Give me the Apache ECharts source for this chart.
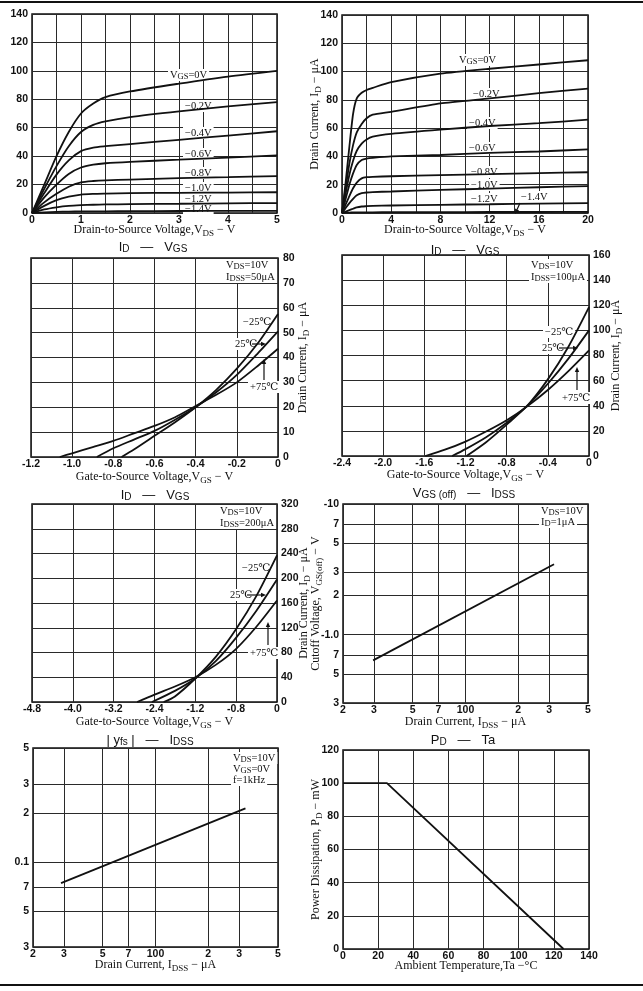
<!DOCTYPE html>
<html>
<head>
<meta charset="utf-8">
<script src="https://cdn.jsdelivr.net/npm/echarts@6/dist/echarts.min.js"></script>
<style>
html, body { margin: 0; padding: 0; background: #fff; }
#chart { width: 643px; height: 991px; }
</style>
</head>
<body>
<div id="chart"></div>
<script>
// ---- values ----

// I_D - V_DS, 0..5 V (uA)
const vds5 = [0, 0.25, 0.5, 0.75, 1, 1.25, 1.5, 2, 3, 4, 5];
const low0 = [0, 20, 40, 57, 70, 77, 81.5, 85.5, 91, 96, 100];
const low02 = [0, 17, 33, 47, 57, 62, 64.5, 67.5, 71.5, 75, 78];
const low04 = [0, 14, 27, 37, 43.5, 46, 47, 48.5, 51.5, 54.5, 57.5];
const low06 = [0, 11, 20, 27.5, 32, 34, 35, 36, 37.5, 39, 40.5];
const low08 = [0, 7.5, 13.5, 18.5, 21.5, 22.5, 23, 23.5, 24.5, 25.2, 26];
const low10 = [0, 5, 9, 11.5, 13, 13.5, 13.7, 14, 14.2, 14.4, 14.6];
const low12 = [0, 2.5, 4, 5, 5.5, 5.8, 6, 6.2, 6.5, 6.8, 7];
const low14 = [0, 0.5, 0.8, 1, 1.1, 1.2, 1.2, 1.3, 1.4, 1.5, 1.5];

// I_D - V_DS, 0..20 V (uA)
const vds20 = [0, 0.3, 0.6, 0.9, 1.2, 1.6, 2, 2.5, 4, 8, 12, 16, 20];
const hi0 = [0, 22, 47, 70, 81, 85, 87, 88.5, 92.5, 98.5, 102, 105, 108];
const hi02 = [0, 18, 35, 48, 57, 63, 67, 69.5, 71.5, 77.5, 81, 84.7, 88];
const hi04 = [0, 14, 27, 37, 44, 49, 52, 54, 56, 59, 61.5, 63.5, 66];
const hi06 = [0, 10, 20, 28, 34, 37.5, 38.5, 39, 40, 41, 42.5, 43.5, 45];
const hi08 = [0, 6, 12, 17.5, 21.5, 24.5, 25.3, 25.6, 26, 26.8, 27.5, 28.2, 28.8];
const hi10 = [0, 3.5, 7, 10, 12.5, 14, 14.5, 14.8, 15.2, 16.3, 17.3, 18.2, 19];
const hi12 = [0, 1, 2, 3, 4, 4.6, 4.8, 5, 5.3, 5.8, 6.2, 6.6, 7];
const hi14 = [0, 0.2, 0.3, 0.4, 0.5, 0.5, 0.5, 0.5, 0.6, 0.6, 0.7, 0.7, 0.8];

// I_D - V_GS, I_DSS = 50 uA
const a50VgsM25 = [-0.76, -0.7, -0.6, -0.5, -0.4, -0.3, -0.2, -0.1, 0];
const a50IdM25 = [0, 3, 8.5, 14, 20, 27, 35.5, 45.5, 57.5];
const a50Vgs25 = [-0.88, -0.8, -0.7, -0.6, -0.5, -0.4, -0.3, -0.2, -0.1, 0];
const a50Id25 = [0, 3.5, 7, 10.5, 15, 20, 26, 33, 41.5, 50.5];
const a50Vgs75 = [-1.06, -1.0, -0.9, -0.8, -0.7, -0.6, -0.5, -0.4, -0.3, -0.2, -0.1, 0];
const a50Id75 = [0, 1.5, 4, 6.5, 9.5, 12.5, 16, 20.5, 25, 30, 36.5, 43.5];

// I_D - V_GS, I_DSS = 100 uA
const a100VgsM25 = [-1.19, -1.0, -0.8, -0.6, -0.4, -0.2, 0];
const a100IdM25 = [0, 11, 25, 40, 61, 87, 118.5];
const a100Vgs25 = [-1.33, -1.2, -1.0, -0.8, -0.6, -0.4, -0.2, 0];
const a100Id25 = [0, 5.5, 15, 26.5, 40, 57.5, 77.5, 100];
const a100Vgs75 = [-1.59, -1.4, -1.2, -1.0, -0.8, -0.6, -0.4, -0.2, 0];
const a100Id75 = [0, 5, 11.5, 19.5, 28.5, 39.5, 52.5, 67.5, 84];

// I_D - V_GS, I_DSS = 200 uA
const a200VgsM25 = [-2.22, -2.0, -1.6, -1.2, -0.8, -0.4, 0];
const a200IdM25 = [0, 9, 38, 73, 118, 172, 237];
const a200Vgs25 = [-2.45, -2.0, -1.6, -1.2, -0.8, -0.4, 0];
const a200Id25 = [0, 18, 38, 66, 104, 148, 198];
const a200Vgs75 = [-2.74, -2.4, -2.0, -1.6, -1.2, -0.8, -0.4, 0];
const a200Id75 = [0, 12, 25, 40, 60, 86, 122, 164];

// V_GS(off) - I_DSS (log-log)
const offIdss = [29.7, 320];
const offVgs = [0.636, 3.46];

// |y_fs| - I_DSS (log-log)
const yfsIdss = [28.9, 326];
const yfsVal = [0.074, 0.213];

// P_D - Ta
const pdTa = [0, 25, 125.5];
const pdVal = [100, 100, 0];

// tick labels
const p1XTicks = [0, 1, 2, 3, 4, 5];
const p1XLabels = ['0', '1', '2', '3', '4', '5'];
const p1YTicks = [0, 20, 40, 60, 80, 100, 120, 140];
const p1YLabels = ['0', '20', '40', '60', '80', '100', '120', '140'];
const p2XTicks = [0, 4, 8, 12, 16, 20];
const p2XLabels = ['0', '4', '8', '12', '16', '20'];
const p3XTicks = [-1.2, -1.0, -0.8, -0.6, -0.4, -0.2, 0];
const p3XLabels = ['-1.2', '-1.0', '-0.8', '-0.6', '-0.4', '-0.2', '0'];
const p3YTicks = [0, 10, 20, 30, 40, 50, 60, 70, 80];
const p3YLabels = ['0', '10', '20', '30', '40', '50', '60', '70', '80'];
const p4XTicks = [-2.4, -2.0, -1.6, -1.2, -0.8, -0.4, 0];
const p4XLabels = ['-2.4', '-2.0', '-1.6', '-1.2', '-0.8', '-0.4', '0'];
const p4YTicks = [0, 20, 40, 60, 80, 100, 120, 140, 160];
const p4YLabels = ['0', '20', '40', '60', '80', '100', '120', '140', '160'];
const p5XTicks = [-4.8, -4.0, -3.2, -2.4, -1.6, -0.8, 0];
const p5XLabels = ['-4.8', '-4.0', '-3.2', '-2.4', '-1.2', '-0.8', '0'];
const p5YTicks = [0, 40, 80, 120, 160, 200, 240, 280, 320];
const p5YLabels = ['0', '40', '80', '120', '160', '200', '240', '280', '320'];
const logXTicks = [20, 30, 50, 70, 100, 200, 300, 500];
const logXLabels = ['2', '3', '5', '7', '100', '2', '3', '5'];
const p6YTicks = [0.3, 0.5, 0.7, 1, 2, 3, 5, 7, 10];
const p6YLabels = ['3', '5', '7', '-1.0', '2', '3', '5', '7', '-10'];
const p7YTicks = [0.03, 0.05, 0.07, 0.1, 0.2, 0.3, 0.5];
const p7YLabels = ['3', '5', '7', '0.1', '2', '3', '5'];
const p8XTicks = [0, 20, 40, 60, 80, 100, 120, 140];
const p8XLabels = ['0', '20', '40', '60', '80', '100', '120', '140'];
const p8YTicks = [0, 20, 40, 60, 80, 100, 120];
const p8YLabels = ['0', '20', '40', '60', '80', '100', '120'];

// ---- styling ----
const INK = '#111';
const SERIF = '"Liberation Serif","DejaVu Serif",serif';
const SANS = '"Liberation Sans","DejaVu Sans",sans-serif';
const NARROW = '"Liberation Sans Narrow","Liberation Sans",sans-serif';

const nameRich = {
  n: { fontFamily: SERIF, fontSize: 12, lineHeight: 16, color: INK, verticalAlign: 'middle' },
  s: { fontFamily: SERIF, fontSize: 9, lineHeight: 8, color: INK, verticalAlign: 'bottom' }
};

function pick(ticks, labels, tf) {
  return (v) => {
    const i = ticks.findIndex((t) => Math.abs((tf ? tf(t) : t) - v) < 1e-6);
    return i < 0 ? '' : labels[i];
  };
}

function labelStyle(ticks, labels, tf, margin) {
  return {
    margin, fontFamily: NARROW, fontWeight: 'bold', fontSize: 10.5, color: INK,
    formatter: pick(ticks, labels, tf)
  };
}

function linAxis(grid, min, max, interval, ticks, labels, more, margin) {
  return Object.assign({
    type: 'value',
    gridIndex: grid,
    min, max, interval,
    axisLine: { show: false },
    axisTick: { show: false },
    splitLine: { show: true, lineStyle: { color: '#2a2a2a', width: 1 } },
    axisLabel: labelStyle(ticks, labels, null, margin),
    nameLocation: 'middle',
    nameMoveOverlap: false,
    nameTextStyle: { rich: nameRich }
  }, more);
}

function logHidden(grid, min, max) {
  return { type: 'log', logBase: 10, gridIndex: grid, min, max, show: false };
}

// shown companion axis laid out in log10 space, only for grid lines and labels
function logShown(grid, min, max, ticks, labels, more, margin) {
  const cv = ticks.map(Math.log10);
  return Object.assign({
    type: 'value',
    gridIndex: grid,
    min: Math.log10(min),
    max: Math.log10(max),
    axisLine: { show: false },
    axisTick: { show: false, customValues: cv },
    splitLine: { show: true, lineStyle: { color: '#2a2a2a', width: 1 } },
    axisLabel: Object.assign({ customValues: cv }, labelStyle(ticks, labels, Math.log10, margin)),
    nameLocation: 'middle',
    nameMoveOverlap: false,
    nameTextStyle: { rich: nameRich }
  }, more);
}

function curve(xs, ys, xi, yi, smooth) {
  return {
    type: 'line',
    xAxisIndex: xi,
    yAxisIndex: yi,
    data: xs.map((x, i) => [x, ys[i]]),
    smooth: smooth === undefined ? 0.25 : smooth,
    symbol: 'none',
    silent: true,
    z: 3,
    lineStyle: { color: INK, width: 1.8 }
  };
}

const gridBox = { show: true, borderColor: INK, borderWidth: 1.5, backgroundColor: 'transparent', containLabel: false };
const grids = [
  { left: 32, top: 14, width: 245, height: 199 },
  { left: 342, top: 15, width: 246, height: 198 },
  { left: 31, top: 258, width: 247, height: 199 },
  { left: 342, top: 255, width: 247, height: 201 },
  { left: 32, top: 504, width: 245, height: 198 },
  { left: 343, top: 504, width: 245, height: 199 },
  { left: 33, top: 748, width: 245, height: 199 },
  { left: 343, top: 750, width: 246, height: 199 }
].map((g) => Object.assign({}, gridBox, g));

const vdsName = '{n|Drain-to-Source Voltage,V}{s|DS}{n| − V}';
const vgsName = '{n|Gate-to-Source Voltage,V}{s|GS}{n| − V}';
const idName = '{n|Drain Current, I}{s|D}{n| − μA}';
const idssName = '{n|Drain Current, I}{s|DSS}{n| − μA}';

const XM = 2; // x tick label margin
const YM = 4; // y tick label margin

const xAxes = [
  linAxis(0, 0, 5, 0.5, p1XTicks, p1XLabels, { name: vdsName, nameGap: 9 }, XM),
  linAxis(1, 0, 20, 2, p2XTicks, p2XLabels, { name: vdsName, nameGap: 9 }, XM),
  linAxis(2, -1.2, 0, 0.2, p3XTicks, p3XLabels, { name: vgsName, nameGap: 12 }, XM),
  linAxis(3, -2.4, 0, 0.4, p4XTicks, p4XLabels, { name: vgsName, nameGap: 11 }, XM),
  linAxis(4, -4.8, 0, 0.8, p5XTicks, p5XLabels, { name: vgsName, nameGap: 12 }, XM),
  logHidden(5, 20, 500),
  logShown(5, 20, 500, logXTicks, logXLabels, { position: 'bottom', name: idssName, nameGap: 11 }, XM),
  logHidden(6, 20, 500),
  logShown(6, 20, 500, logXTicks, logXLabels, { position: 'bottom', name: idssName, nameGap: 10 }, XM),
  linAxis(7, 0, 140, 20, p8XTicks, p8XLabels, { name: '{n|Ambient Temperature,Ta −°C}', nameGap: 9 }, XM)
];

const yAxes = [
  linAxis(0, 0, 140, 20, p1YTicks, p1YLabels, {}, YM),
  linAxis(1, 0, 140, 20, p1YTicks, p1YLabels, { name: idName, nameGap: 19 }, YM),
  linAxis(2, 0, 80, 10, p3YTicks, p3YLabels, { position: 'right', name: idName, nameGap: 17 }, 5),
  linAxis(3, 0, 160, 20, p4YTicks, p4YLabels, { position: 'right', name: idName, nameGap: 19 }, YM),
  linAxis(4, 0, 320, 40, p5YTicks, p5YLabels, { position: 'right', name: idName, nameGap: 19 }, YM),
  logHidden(5, 0.3, 10),
  logShown(5, 0.3, 10, p6YTicks, p6YLabels, { position: 'left', name: '{n|Cutoff Voltage, V}{s|GS(off)}{n| − V}', nameGap: 19 }, YM),
  logHidden(6, 0.03, 0.5),
  logShown(6, 0.03, 0.5, p7YTicks, p7YLabels, { position: 'left' }, YM),
  linAxis(7, 0, 120, 20, p8YTicks, p8YLabels, { name: '{n|Power Dissipation, P}{s|D}{n| − mW}', nameGap: 19 }, YM)
];

const series = [
  ...[low0, low02, low04, low06, low08, low10, low12, low14].map((ys) => curve(vds5, ys, 0, 0)),
  ...[hi0, hi02, hi04, hi06, hi08, hi10, hi12, hi14].map((ys) => curve(vds20, ys, 1, 1, 0.2)),
  curve(a50VgsM25, a50IdM25, 2, 2),
  curve(a50Vgs25, a50Id25, 2, 2),
  curve(a50Vgs75, a50Id75, 2, 2),
  curve(a100VgsM25, a100IdM25, 3, 3),
  curve(a100Vgs25, a100Id25, 3, 3),
  curve(a100Vgs75, a100Id75, 3, 3),
  curve(a200VgsM25, a200IdM25, 4, 4),
  curve(a200Vgs25, a200Id25, 4, 4),
  curve(a200Vgs75, a200Id75, 4, 4),
  curve(offIdss, offVgs, 5, 5, false),
  curve(yfsIdss, yfsVal, 7, 7, false),
  curve(pdTa, pdVal, 9, 9, false)
];

// ---- annotations ----
const noteRich = {
  n: { fontFamily: SERIF, fontSize: 10.5, lineHeight: 12, verticalAlign: 'middle' },
  s: { fontFamily: SERIF, fontSize: 8.5, lineHeight: 5, verticalAlign: 'bottom' }
};
const titleRich = {
  n: { fontFamily: SANS, fontSize: 13, lineHeight: 15, verticalAlign: 'middle' },
  s: { fontFamily: SANS, fontSize: 10, lineHeight: 7, verticalAlign: 'bottom' }
};

function note(x, y, text) {
  return {
    type: 'text', x, y, z: 1,
    style: {
      text, rich: noteRich, fill: INK, align: 'left', verticalAlign: 'middle',
      backgroundColor: '#fff', padding: [0, 2]
    }
  };
}
function title(x, y, text) {
  return {
    type: 'text', x, y, z: 1,
    style: { text, rich: titleRich, fill: INK, align: 'center', verticalAlign: 'middle' }
  };
}
function arrow(x1, y1, x2, y2) {
  const a = Math.atan2(y2 - y1, x2 - x1);
  const L = 5, W = 2.2;
  const bx = x2 - L * Math.cos(a), by = y2 - L * Math.sin(a);
  const nx = -Math.sin(a) * W, ny = Math.cos(a) * W;
  return [
    { type: 'line', z: 4, shape: { x1, y1, x2: bx, y2: by }, style: { stroke: INK, lineWidth: 1.2 } },
    { type: 'polygon', z: 4, shape: { points: [[x2, y2], [bx + nx, by + ny], [bx - nx, by - ny]] }, style: { fill: INK } }
  ];
}
function rule(y) {
  return { type: 'line', z: 5, shape: { x1: 0, y1: y, x2: 643, y2: y }, style: { stroke: INK, lineWidth: 2 } };
}

const graphic = [
  rule(2), rule(985),
  // I_D - V_DS (5 V)
  note(168, 75, '{n|V}{s|GS}{n|=0V}'),
  note(183, 106, '{n|−0.2V}'),
  note(183, 133, '{n|−0.4V}'),
  note(183, 154, '{n|−0.6V}'),
  note(183, 173, '{n|−0.8V}'),
  note(183, 188, '{n|−1.0V}'),
  note(183, 199, '{n|−1.2V}'),
  note(183, 209, '{n|−1.4V}'),
  // I_D - V_DS (20 V)
  note(457, 60, '{n|V}{s|GS}{n|=0V}'),
  note(471, 94, '{n|−0.2V}'),
  note(467, 123, '{n|−0.4V}'),
  note(467, 148, '{n|−0.6V}'),
  note(469, 172, '{n|−0.8V}'),
  note(469, 185, '{n|−1.0V}'),
  note(469, 199, '{n|−1.2V}'),
  note(519, 197, '{n|−1.4V}'),
  ...arrow(520, 203, 515, 214),
  // I_D - V_GS 50 uA
  title(153, 247, '{n|I}{s|D}{n|   —   V}{s|GS}'),
  note(224, 265, '{n|V}{s|DS}{n|=10V}'),
  note(224, 277, '{n|I}{s|DSS}{n|=50μA}'),
  note(241, 322, '{n|−25℃}'),
  note(233, 344, '{n|25℃}'),
  ...arrow(252, 344, 266, 344),
  note(248, 387, '{n|+75℃}'),
  ...arrow(264, 380, 264, 359),
  // I_D - V_GS 100 uA
  title(465, 250, '{n|I}{s|D}{n|   —   V}{s|GS}'),
  note(529, 265, '{n|V}{s|DS}{n|=10V}'),
  note(529, 277, '{n|I}{s|DSS}{n|=100μA}'),
  note(543, 332, '{n|−25℃}'),
  note(540, 348, '{n|25℃}'),
  ...arrow(559, 348, 578, 348),
  note(560, 398, '{n|+75℃}'),
  ...arrow(577, 390, 577, 367),
  // I_D - V_GS 200 uA
  title(155, 495, '{n|I}{s|D}{n|   —   V}{s|GS}'),
  note(218, 511, '{n|V}{s|DS}{n|=10V}'),
  note(218, 523, '{n|I}{s|DSS}{n|=200μA}'),
  note(240, 568, '{n|−25℃}'),
  note(228, 595, '{n|25℃}'),
  ...arrow(247, 595, 266, 595),
  note(248, 653, '{n|+75℃}'),
  ...arrow(268, 645, 268, 622),
  // V_GS(off) - I_DSS
  title(464, 493, '{n|V}{s|GS (off)}{n|   —   I}{s|DSS}'),
  note(539, 511, '{n|V}{s|DS}{n|=10V}'),
  note(539, 522, '{n|I}{s|D}{n|=1μA}'),
  // |y_fs| - I_DSS
  title(150, 740, '{n|| y}{s|fs}{n| |   —   I}{s|DSS}'),
  note(231, 758, '{n|V}{s|DS}{n|=10V}'),
  note(231, 769, '{n|V}{s|GS}{n|=0V}'),
  note(231, 780, '{n|f=1kHz}'),
  // P_D - Ta
  title(463, 740, '{n|P}{s|D}{n|   —   Ta}')
];

const chart = echarts.init(document.getElementById('chart'), null, { renderer: 'canvas' });
chart.setOption({
  backgroundColor: '#fff',
  animation: false,
  grid: grids,
  xAxis: xAxes,
  yAxis: yAxes,
  series,
  graphic
});
</script>
</body>
</html>
